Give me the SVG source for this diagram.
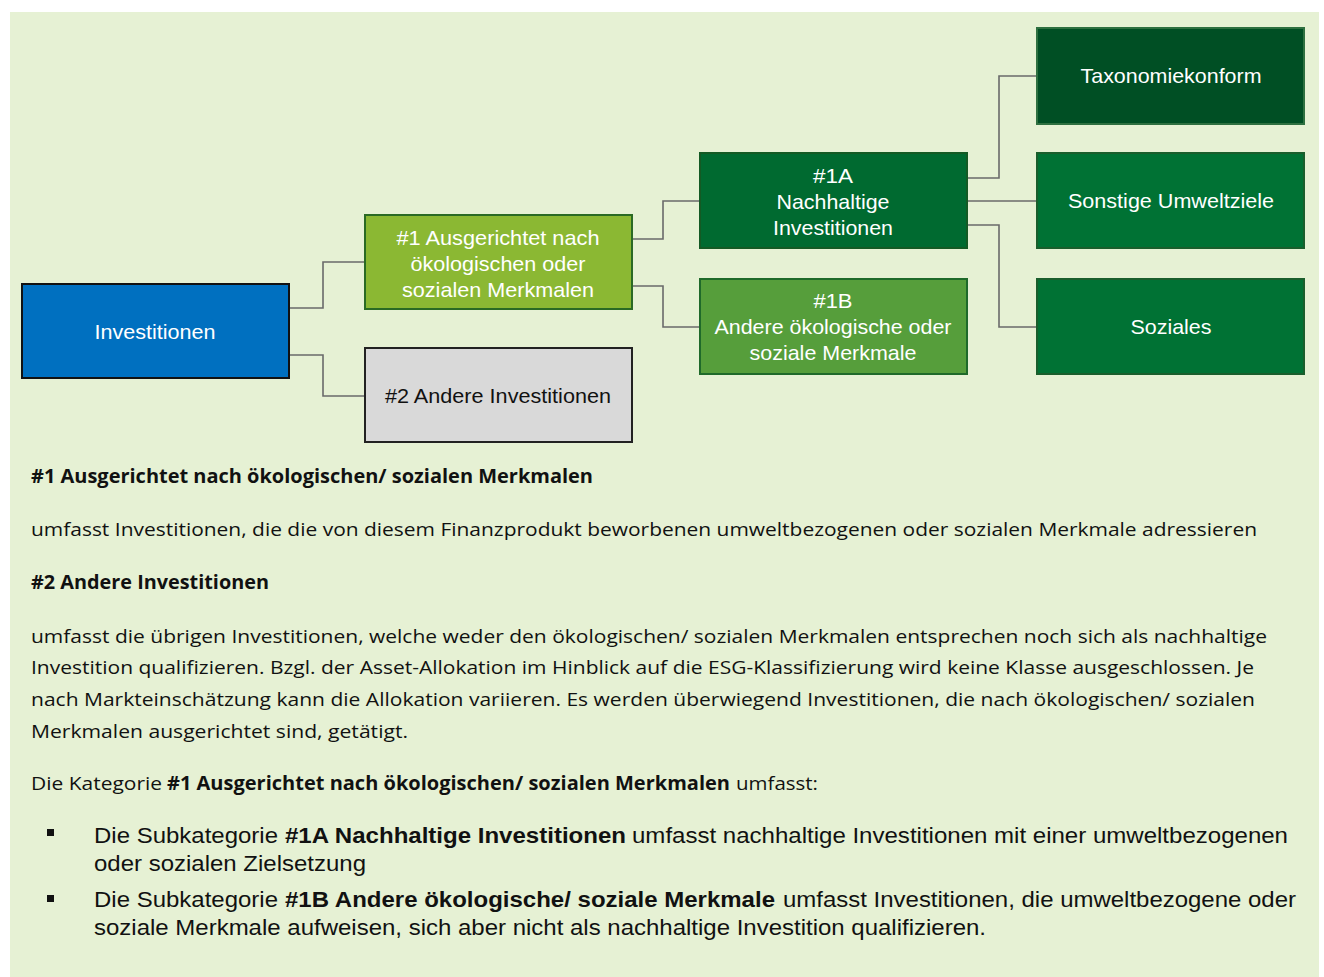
<svg xmlns="http://www.w3.org/2000/svg" width="1324" height="977" viewBox="0 0 1324 977">
<style>
.bx{stroke-width:2}
.bt{font-family:"Liberation Sans",Arial,sans-serif;font-size:21px;fill:#fff;text-anchor:middle}
.bd{fill:#111}
.conn{fill:none;stroke:#6a6a6a;stroke-width:1.6}
.body{font-family:"Open Sans","Noto Sans",sans-serif;font-size:19px;fill:#111}
.b{font-weight:bold}
.bul{font-family:"Liberation Sans",Arial,sans-serif;font-size:22px;fill:#111}
</style>
<rect x="10" y="12" width="1309" height="965" fill="#E6F1D4"/>
<g id="connectors">
<path class="conn" d="M289 308 H323 V262 H365"/>
<path class="conn" d="M289 355 H323 V396 H365"/>
<path class="conn" d="M632 239 H663 V201 H700"/>
<path class="conn" d="M632 286 H663 V327 H700"/>
<path class="conn" d="M967 178 H999 V76 H1037"/>
<path class="conn" d="M967 201 H1037"/>
<path class="conn" d="M967 225 H999 V327 H1037"/>
</g>
<g id="n-invest">
<rect class="bx" x="22" y="284" width="267" height="94" fill="#0070C0" stroke="#111"/>
<text class="bt" x="155" y="339" textLength="121" lengthAdjust="spacingAndGlyphs">Investitionen</text>
</g>
<g id="n-1">
<rect class="bx" x="365" y="215" width="267" height="94" fill="#8BB833" stroke="#2A6A24"/>
<text class="bt" x="498" y="245" textLength="203" lengthAdjust="spacingAndGlyphs">#1 Ausgerichtet nach</text>
<text class="bt" x="498" y="271" textLength="175" lengthAdjust="spacingAndGlyphs">ökologischen oder</text>
<text class="bt" x="498" y="297" textLength="192" lengthAdjust="spacingAndGlyphs">sozialen Merkmalen</text>
</g>
<g id="n-2">
<rect class="bx" x="365" y="348" width="267" height="94" fill="#D9D9D9" stroke="#222"/>
<text class="bt bd" x="498" y="403" textLength="226" lengthAdjust="spacingAndGlyphs">#2 Andere Investitionen</text>
</g>
<g id="n-1a">
<rect class="bx" x="700" y="153" width="267" height="95" fill="#006A30" stroke="#145A24"/>
<text class="bt" x="833" y="183" textLength="40" lengthAdjust="spacingAndGlyphs">#1A</text>
<text class="bt" x="833" y="209" textLength="113" lengthAdjust="spacingAndGlyphs">Nachhaltige</text>
<text class="bt" x="833" y="235" textLength="120" lengthAdjust="spacingAndGlyphs">Investitionen</text>
</g>
<g id="n-1b">
<rect class="bx" x="700" y="279" width="267" height="95" fill="#569E3B" stroke="#1F6A2A"/>
<text class="bt" x="833" y="308" textLength="39" lengthAdjust="spacingAndGlyphs">#1B</text>
<text class="bt" x="833" y="334" textLength="237" lengthAdjust="spacingAndGlyphs">Andere ökologische oder</text>
<text class="bt" x="833" y="360" textLength="167" lengthAdjust="spacingAndGlyphs">soziale Merkmale</text>
</g>
<g id="n-taxo">
<rect class="bx" x="1037" y="28" width="267" height="96" fill="#004F24" stroke="#2E7040"/>
<text class="bt" x="1171" y="83" textLength="181" lengthAdjust="spacingAndGlyphs">Taxonomiekonform</text>
</g>
<g id="n-sonst">
<rect class="bx" x="1037" y="153" width="267" height="95" fill="#007234" stroke="#1A5E2C"/>
<text class="bt" x="1171" y="208" textLength="206" lengthAdjust="spacingAndGlyphs">Sonstige Umweltziele</text>
</g>
<g id="n-soz">
<rect class="bx" x="1037" y="279" width="267" height="95" fill="#007234" stroke="#1A5E2C"/>
<text class="bt" x="1171" y="334" textLength="81" lengthAdjust="spacingAndGlyphs">Soziales</text>
</g>
<g id="text-body">
<text class="body b" x="31" y="483" textLength="562" lengthAdjust="spacingAndGlyphs">#1 Ausgerichtet nach ökologischen/ sozialen Merkmalen</text>
<text class="body" x="31" y="536" textLength="1226" lengthAdjust="spacingAndGlyphs">umfasst Investitionen, die die von diesem Finanzprodukt beworbenen umweltbezogenen oder sozialen Merkmale adressieren</text>
<text class="body b" x="31" y="589" textLength="238" lengthAdjust="spacingAndGlyphs">#2 Andere Investitionen</text>
<text class="body" x="31" y="643" textLength="1236" lengthAdjust="spacingAndGlyphs">umfasst die übrigen Investitionen, welche weder den ökologischen/ sozialen Merkmalen entsprechen noch sich als nachhaltige</text>
<text class="body" x="31" y="674" textLength="1223" lengthAdjust="spacingAndGlyphs">Investition qualifizieren. Bzgl. der Asset-Allokation im Hinblick auf die ESG-Klassifizierung wird keine Klasse ausgeschlossen. Je</text>
<text class="body" x="31" y="706" textLength="1224" lengthAdjust="spacingAndGlyphs">nach Markteinschätzung kann die Allokation variieren. Es werden überwiegend Investitionen, die nach ökologischen/ sozialen</text>
<text class="body" x="31" y="738" textLength="377" lengthAdjust="spacingAndGlyphs">Merkmalen ausgerichtet sind, getätigt.</text>
<text class="body" y="790"><tspan x="31" textLength="131" lengthAdjust="spacingAndGlyphs">Die Kategorie</tspan><tspan class="b" x="167" textLength="563" lengthAdjust="spacingAndGlyphs">#1 Ausgerichtet nach ökologischen/ sozialen Merkmalen</tspan><tspan x="736" textLength="82" lengthAdjust="spacingAndGlyphs">umfasst:</tspan></text>
</g>
<g id="bullets">
<rect x="47" y="829" width="7" height="7" fill="#111"/>
<rect x="47" y="895" width="7" height="7" fill="#111"/>
<text class="bul" y="843"><tspan x="94" textLength="184" lengthAdjust="spacingAndGlyphs">Die Subkategorie</tspan><tspan class="b" x="285" textLength="341" lengthAdjust="spacingAndGlyphs">#1A Nachhaltige Investitionen</tspan><tspan x="632" textLength="656" lengthAdjust="spacingAndGlyphs">umfasst nachhaltige Investitionen mit einer umweltbezogenen</tspan></text>
<text class="bul" x="94" y="871" textLength="272" lengthAdjust="spacingAndGlyphs">oder sozialen Zielsetzung</text>
<text class="bul" y="907"><tspan x="94" textLength="184" lengthAdjust="spacingAndGlyphs">Die Subkategorie</tspan><tspan class="b" x="285" textLength="490" lengthAdjust="spacingAndGlyphs">#1B Andere ökologische/ soziale Merkmale</tspan><tspan x="783" textLength="513" lengthAdjust="spacingAndGlyphs">umfasst Investitionen, die umweltbezogene oder</tspan></text>
<text class="bul" x="94" y="935" textLength="892" lengthAdjust="spacingAndGlyphs">soziale Merkmale aufweisen, sich aber nicht als nachhaltige Investition qualifizieren.</text>
</g>
</svg>
